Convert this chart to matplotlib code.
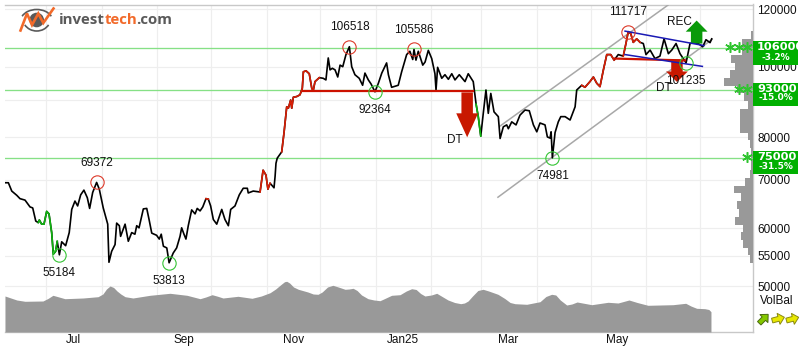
import numpy as np
import pandas as pd
import matplotlib
matplotlib.use("Agg")
import matplotlib.pyplot as plt
from matplotlib.patches import Polygon, Circle, Rectangle, Arc
from matplotlib.transforms import Bbox

plt.rcParams['font.family'] = ['Liberation Sans', 'DejaVu Sans']

# ---------- data (x in days from 1 Jul 2024) ----------
price_days = [-23.2,-21.3,-19.4,-16.6,-14.8,-12,-9.2,-7.7,-6,-4.6,-4,-2.7,-1.4,0.1,1.4,2.9,3.8,5.1,6,7.2,8.5,10.7,12.7,14.1,15.9,17.4,19.1,20.9,22.8,24.1,25.8,28,29.5,31.7,34.2,34.9,36.4,38.3,39.2,40.7,41.4,43.9,45.7,47.6,49.4,50.4,51.7,54.1,56,57.3,58.8,61.5,63,64.1,65.3,67.2,68.5,70.8,72.7,74.6,75.5,76.8,77.9,79.2,81.1,83,84.2,85.8,87.3,89.1,90.4,91.7,93.2,95.1,97.9,99.7,101.6,102.9,105.3,107.7,109.9,112.2,112.7,115.5,119.3,121,122.6,123.7,124.9,127.1,127.7,128.2,128.9,131.4,
              132.7,134.2,135.1,136.4,137,137.9,139.8,141.6,142.9,143.5,145,146.8,148.2,149,150,152.4,154.6,156.1,157.4,158.4,159.7,161.2,162.7,164,165.5,167.3,169.2,170.5,172.3,174.7,176.6,177.9,179.8,181.3,183.5,185.4,187.3,190,191,192.8,196.5,198.4,201.2,203,204.6,205.3,206.4,207.7,210.2,211.5,213.3,215.2,217,217.6,218.5,220.8,222.6,224.5,226.4,228.2,230.6,233.8,235.6,237.2,238.4,240,241.2,242.6,244,245.5,246.8,248.2,250,252.4,253.4,255.2,257.1,258,259.9,262.3,264.5,267.3,269.7,272,273.9,275.7,
              278.5,279.8,281.3,281.9,282.6,284.1,285.9,287.3,289.7,292.5,295.3,296.2,299,300.8,303.6,305.5,307.4,309.2,311.1,313,315.2,317.1,319.4,322.2,323.7,325,326.4,327.8,329.7,331.6,333.4,334.9,337.2,339.9,342.7,345,347.4,349.3,351.7,353.9,357.3,359.5,361.3,364.1,366.6,368.4,370.7,371.6]
price_values = [69300,69300,67500,66600,65900,65600,64200,64000,61400,61100,61600,60800,60800,63300,62800,59200,55300,55800,57600,55184,57500,56800,59200,63700,65400,64400,66700,67700,66100,63900,67200,69372,67900,64000,60800,53900,55800,57000,61000,60500,58500,60800,57600,59200,58900,60500,60100,63800,63900,61700,59100,58700,58000,58900,56700,56400,53813,55500,56400,58500,60100,58900,58000,60500,63600,62800,63900,63400,64200,65900,65800,64400,61700,60800,63700,61700,60500,63700,64400,66700,68100,68100,67100,67500,67300,72100,71000,67900,69200,68200,70700,73700,74900,76400,
                81200,88100,87700,90000,87700,90800,91000,91500,93400,98400,98700,97800,93400,92700,95400,96600,96400,95900,102800,99000,99500,99000,96800,100500,100000,103900,106518,100000,97500,96400,94300,98000,95900,94700,92364,94900,98000,101200,97500,93700,94300,98400,103900,105000,102300,105586,102100,105000,100500,101500,105300,102600,97800,92900,99800,96400,97500,96100,97800,95900,97500,95400,97800,96400,95400,88800,85400,80300,86300,92900,86300,91900,86700,85400,79700,82700,83200,82200,84000,83200,85800,87200,87000,83200,81400,83700,
                83200,80100,79800,81400,74981,81200,84000,85400,85400,84500,88100,92900,94300,93700,95400,96800,94900,93900,99000,103900,103900,102100,103900,103400,107600,111717,111000,108000,109200,108000,107600,103900,105400,102600,103400,109200,104200,105400,107600,104200,101235,107600,107900,107600,106500,108900,107900,109200]

red_spans = [(88.5, 91), (119, 124.9), (131.4, 152.4), (299, 317.1), (322.2, 331.6)]
green_spans = [(-4.6, 6), (240, 242.6)]

vol_days = [-23.2,-16.6,-12,-2,0.8,3.6,6,10.3,20.4,28.8,31.5,33.5,35.5,37.5,39.4,41.5,43.9,48.3,57.8,69,78.5,85.8,89,92.5,95.5,98.6,107,114.8,120,124.9,128,131,133,134.2,135.8,138,140.7,146,149,151.7,154,157,160,163,166.8,169,171.3,173.5,176,179.6,183,186.3,189,192.8,197.5,201,204,206.5,209,211.4,215,218,221,224.3,228,231.4,233.5,235.5,238,241,243.9,247,252.2,256,259,261.7,268.3,275.7,279,282.2,284.5,287,290.6,293.5,296.4,304.6,313.7,319.3,325.4,330,336,350,357.1,360,363.2,367.8,370,371.2]
vol_values = [36,32,30.7,31,33.5,36.7,35.5,33.3,34,35.3,38,43,46,44.5,41,38,35.3,34,36.7,38.7,36.7,33.3,35,37.3,35.8,34,35.7,33.7,36,39.3,43,47.5,50.3,50.7,49,45,42.7,40,38,37.7,40,45,46.7,45,42.7,43,43.7,41.5,37,33.3,32,31.3,33.5,36.7,37.3,41,43.3,42.5,38.5,36,37,38.7,35.5,32,29.5,28.3,29,31,36,41.5,42.7,41,37.7,33.5,29.5,28.3,27.7,30.3,35.5,37.7,37,32,27,28,30,27.3,29.7,29,32,29.5,26.7,27.3,28.7,26,23.7,23.3,22.5,20.3]

hist_edges = [111900,109100,106400,103800,101200,98900,96500,94100,92000,89700,87500,85300,83200,81100,79300,77300,75400,73800,72100,70300,68600,67100,65400,63800,62200,60600,59300,57800,56400,55100,53800]
hist_values = [2,11,11,22,18,22.7,29,16,9,5,13,13,13,5,3,2,2,2,3,8,19,12,16,14,18,10,12,10,4.5,3]

tops = [(28, 69372), (169.2, 106518), (205.3, 105586), (325, 111717)]
bottoms = [(7.2, 55184), (68.5, 53813), (183.5, 92364), (282.6, 74981), (357.3, 101235)]

sr_levels = [106000, 93000, 75000]
sr_tags = ["106000", "93000", "75000"]
sr_pcts = ["-3.2%", "-15.0%", "-31.5%"]
sr_stars = [3, 2, 1]

channel_low_days, channel_low = [252.2, 371.8], [66200, 109000]
channel_up_days, channel_up = [253.4, 347.2], [82900, 121500]
blue_up_days, blue_up = [323.2, 367.3], [111900, 106900]
blue_low_days, blue_low = [323.2, 366.4], [103900, 100100]
dt1_days, dt1 = [143.3, 238.3], [92500, 92500]
dt2_days, dt2 = [317.6, 356.7], [102600, 102000]

yticks = [120000, 100000, 90000, 80000, 70000, 60000, 55000, 50000]
ylabels = ["120000", "100000", "", "80000", "70000", "60000", "55000", "50000"]
month_labels = {"2024-07-01": "Jul", "2024-09-01": "Sep", "2024-11-01": "Nov",
                "2025-01-01": "Jan25", "2025-03-01": "Mar", "2025-05-01": "May"}

# ---------- layout ----------
W, H = 802, 352
fig = plt.figure(figsize=(W / 100, H / 100), dpi=100, facecolor='white')
rect = [5 / W, (H - 332) / H, 747.5 / W, 327.5 / H]
XLIM = (-23.18, 394.4)
YLIM = (43240, 121720)
GRID = '#eeeeee'
BORDER = '#c8c8c8'
TXT = '#111111'

base = pd.Timestamp("2024-07-01")
month_starts = pd.date_range("2024-07-01", "2025-07-01", freq="MS")
month_pos = [(d - base).days for d in month_starts]

ax = fig.add_axes(rect, zorder=0)
ax.set_xlim(*XLIM)
ax.set_yscale('log')
ax.set_ylim(*YLIM)
ax.yaxis.tick_right()
ax.set_yticks(yticks)
ax.set_yticklabels(ylabels, fontsize=8.5, color=TXT)
ax.minorticks_off()
ax.set_xticks(month_pos)
ax.set_xticklabels([])
ax.set_xticks([(pd.Timestamp(k) - base).days + 15 for k in month_labels], minor=True)
ax.set_xticklabels(list(month_labels.values()), minor=True, fontsize=8.5, color=TXT)
ax.tick_params(axis='x', which='both', length=0, pad=1.2)
ax.tick_params(axis='y', which='both', length=0, pad=3.4)
ax.grid(True, which='major', color=GRID, lw=0.85)
ax.spines['left'].set_visible(False)
for s in ('top', 'bottom', 'right'):
    ax.spines[s].set_color(BORDER)
    ax.spines[s].set_linewidth(1.0)

# volume balance area
ax_v = fig.add_axes(rect, zorder=1)
ax_v.set_xlim(*XLIM)
ax_v.set_ylim(0, 327.5)
ax_v.axis('off')
ax_v.fill_between(vol_days, 0, vol_values, color='#999999', lw=0)

# volume by price histogram
ax_h = fig.add_axes(rect, zorder=1.5)
ax_h.set_xlim(747.5, 0)
ax_h.set_yscale('log')
ax_h.set_ylim(*YLIM)
ax_h.axis('off')
for i, val in enumerate(hist_values):
    ax_h.fill_betweenx([hist_edges[i + 1], hist_edges[i]], 0, val, color='#999999', lw=0)

# price layer
ap = fig.add_axes(rect, zorder=2)
ap.patch.set_alpha(0)
ap.set_xlim(*XLIM)
ap.set_yscale('log')
ap.set_ylim(*YLIM)
ap.axis('off')

for lv in sr_levels:
    ap.axhline(lv, color='#86e086', lw=0.95, zorder=1)

ap.plot(channel_low_days, channel_low, color='#a8a8a8', lw=1.1, zorder=2)
ap.plot(channel_up_days, channel_up, color='#a8a8a8', lw=1.1, zorder=2)

d = np.array(price_days)
v = np.array(price_values)
ap.plot(d, v, color='black', lw=1.2, zorder=3, solid_joinstyle='round')
for a, b in red_spans:
    m = (d >= a) & (d <= b)
    ap.plot(d[m], v[m], color='#d81e05', lw=1.2, zorder=3.1)
for a, b in green_spans:
    m = (d >= a) & (d <= b)
    ap.plot(d[m], v[m], color='#0fb30f', lw=1.2, zorder=3.1)

ap.plot(dt1_days, dt1, color='#cc1100', lw=1.6, zorder=4)
ap.plot(dt2_days, dt2, color='#cc1100', lw=1.6, zorder=4)
ap.plot(blue_up_days, blue_up, color='#1a1ab4', lw=1.1, zorder=4.2)
ap.plot(blue_low_days, blue_low, color='#1a1ab4', lw=1.1, zorder=4.2)


def block_arrow(day, p_base, p_neck, p_tip, color, shaft=3.2, head=6.1):
    pts = [(day - shaft, p_base), (day + shaft, p_base), (day + shaft, p_neck),
           (day + head, p_neck), (day, p_tip), (day - head, p_neck), (day - shaft, p_neck)]
    ap.add_patch(Polygon(pts, closed=True, fc=color, ec='none', zorder=4.1))


block_arrow(235, 92200, 86300, 80000, '#c81800')
block_arrow(352.2, 102300, 98500, 95300, '#c81800')
block_arrow(363.2, 107600, 111700, 115700, '#0a9a0a')

for day, p in tops:
    ap.plot([day], [p], 'o', ms=9.6, mfc='none', mec='#dd3a2a', mew=0.8, zorder=5)
    ap.annotate(str(p), (day, p), xytext=(0, 19.5), textcoords='offset pixels', ha='center',
                va='center', fontsize=8.5, color=TXT, zorder=6)
for day, p in bottoms:
    ap.plot([day], [p], 'o', ms=9.6, mfc='none', mec='#35c435', mew=0.8, zorder=5)
    ap.annotate(str(p), (day, p), xytext=(0, -18.5), textcoords='offset pixels', ha='center',
                va='center', fontsize=8.5, color=TXT, zorder=6)

ap.text(228.2, 79400, "DT", ha='center', va='center', fontsize=8.5, color=TXT, zorder=6)
ap.text(345, 93500, "DT", ha='center', va='center', fontsize=8.5, color=TXT, zorder=6)
ap.text(353.5, 115300, "REC", ha='center', va='center', fontsize=8.5, color=TXT, zorder=6)

star_days = [391.3, 386.7, 381.8]
for lv, n in zip(sr_levels, sr_stars):
    ap.plot(star_days[:n], [lv * 1.003] * n, ls='none', marker=(6, 2, 0), ms=7.6, mew=1.1,
            color='#2fc42f', zorder=7)

# ---------- decoration overlay in pixel space ----------
ov = fig.add_axes([0, 0, 1, 1], zorder=5)
ov.patch.set_alpha(0)
ov.set_xlim(0, W)
ov.set_ylim(H, 0)
ov.axis('off')

boxes = [(41, 65, 46.7, 57.0), (82.7, 106, 89.3, 97.8), (151, 173.7, 156.7, 166.7)]
for (y0, y1, ty, sy), tag, pct in zip(boxes, sr_tags, sr_pcts):
    ov.add_patch(Rectangle((752.5, y0), 45.5, y1 - y0, fc='#00b000', ec='none'))
    t = ov.text(757, ty, tag, color='white', fontsize=8.2, family='DejaVu Sans', weight='bold',
                ha='left', va='center')
    t.set_clip_box(Bbox([[752.5, 0], [798, H]]))
    t.set_clip_on(True)
    ov.text(775.5, sy, pct, color='white', fontsize=6.5, family='DejaVu Sans', weight='bold',
            ha='center', va='center')

ov.text(776.7, 301, "VolBal", fontsize=8.5, color=TXT, ha='center', va='center')


def icon(cx, cy, angle, fc, ec):
    shape = 1.1 * np.array([[-5.5, -2.2], [0.5, -2.2], [0.5, -5.2], [6, 0], [0.5, 5.2], [0.5, 2.2], [-5.5, 2.2]])
    a = np.deg2rad(angle)
    R = np.array([[np.cos(a), np.sin(a)], [-np.sin(a), np.cos(a)]])
    ov.add_patch(Polygon(shape @ R.T + [cx, cy], closed=True, fc=fc, ec=ec, lw=0.7))


icon(763.5, 319, 45, '#84c800', '#4a6a10')
icon(778, 319, 15, '#e8e800', '#8a8a10')
icon(792.3, 319, 15, '#e8e800', '#8a8a10')

# logo
LOGO_GREY = '#5a5a5a'
ov.add_patch(Circle((36.7, 20), 7.3, fc=LOGO_GREY, ec='none'))
ov.add_patch(Arc((36.7, 21), 32, 23, theta1=198, theta2=342, ec=LOGO_GREY, lw=1.2))
ov.add_patch(Arc((36.7, 18), 28, 26, theta1=30, theta2=150, ec=LOGO_GREY, lw=1.2))
ov.plot([20.5, 27, 32, 38.3, 43.3, 53.5], [30.5, 13.5, 25, 13.5, 23, 8.5], color='#f26a2a', lw=1.9,
        solid_joinstyle='miter')
for x, s, c in [(58.5, "invest", LOGO_GREY), (105, "tech", '#f26a2a'), (136, ".com", LOGO_GREY)]:
    ov.text(x, 20, s, color=c, fontsize=10.8, family='Open Sans', weight='bold', ha='left', va='center')

fig.savefig("out.png", dpi=100, facecolor='white')
